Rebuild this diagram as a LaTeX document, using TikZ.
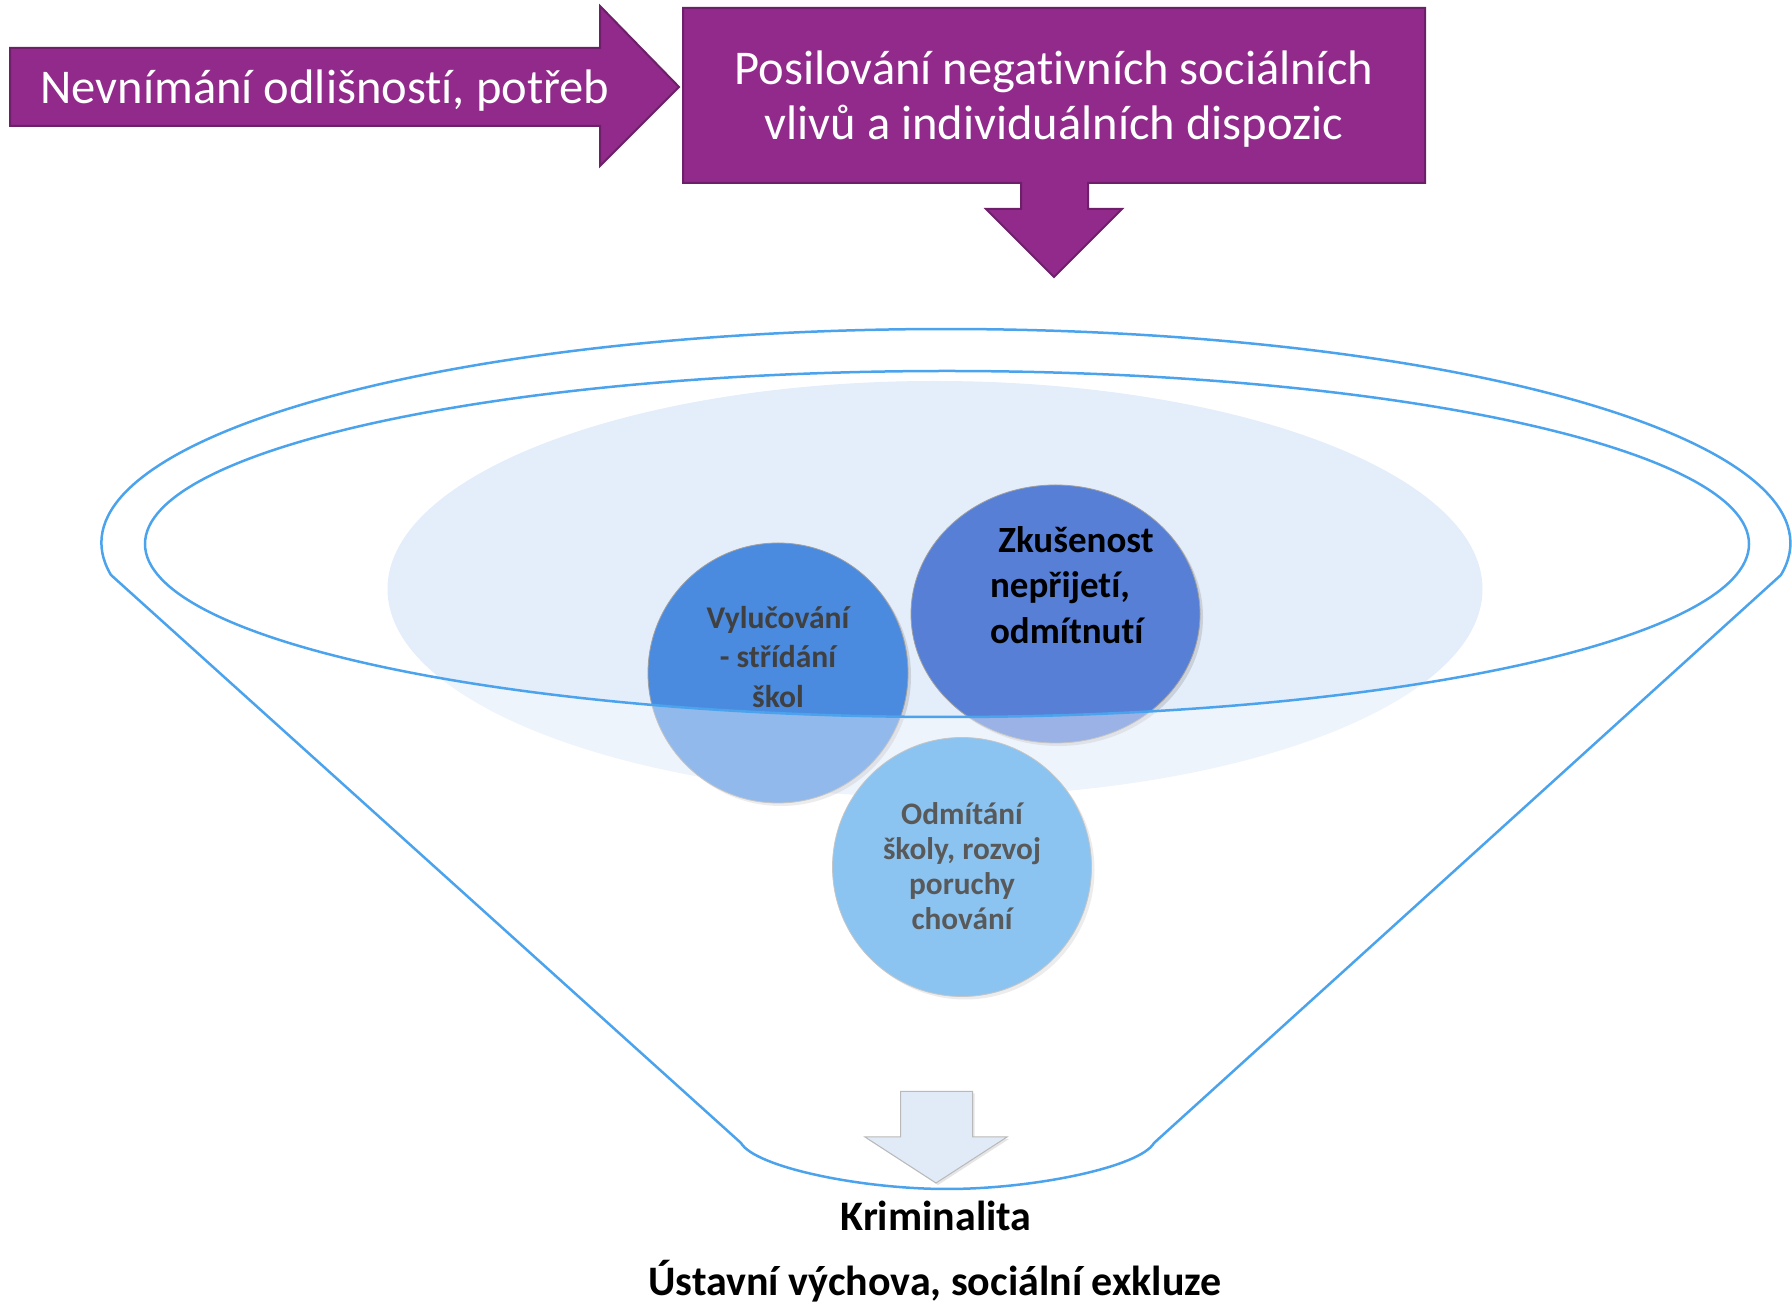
\documentclass[tikz,border=0pt]{standalone}
\usepackage{fontspec}
\setmainfont{Carlito}[Ligatures=NoCommon]
\usetikzlibrary{shapes.geometric,shadows}

\definecolor{purpleFill}{HTML}{912A8B}
\definecolor{purpleEdge}{HTML}{6D1F69}
\definecolor{funnelBlue}{HTML}{4AA3EC}
\definecolor{mouthBlue}{HTML}{E4EDFA}
\definecolor{vylBlue}{HTML}{4A8BDF}
\definecolor{zkuBlue}{HTML}{577FD6}
\definecolor{odmBlue}{HTML}{3F9DE9}
\definecolor{arrowBlue}{HTML}{E1EBF8}

\begin{document}
\begin{tikzpicture}
[x=1pt,y=1pt,
 bubbleDecorate/.style={shape=ellipse,inner sep=0pt,draw=gray!75,line width=0.8pt,
   drop shadow={opacity=0.25,shadow xshift=3pt,shadow yshift=-3pt}},
 bubbleText/.style={font=\bfseries,align=center}]
\useasboundingbox (0,0) rectangle (1792,1307);
%% light mouth of the funnel
\fill[mouthBlue] (935,718) ellipse [x radius=547.5pt, y radius=208pt];
%% bubbles
\foreach \nodename/\x/\y/\w/\h/\colour in {vyl/778/634/260/260/vylBlue,
  zku/1055.5/693/289/258/zkuBlue, odm/962/440/259/259/odmBlue}
{
  \node (\nodename) at (\x,\y) [bubbleDecorate,fill=\colour,
    minimum width=\w pt,minimum height=\h pt] {};
}
%% front of the funnel, half see-through
\tikzstyle{funnelPath}=[line width=2.5pt,draw=funnelBlue]
\fill[white,opacity=0.4,even odd rule]
  (111,732) arc [start angle=188.6, end angle=-8.6, x radius=844.5pt, y radius=214pt]
  -- (1154,164) .. controls (1140,140) and (1034,118) .. (947,118)
  .. controls (860,118) and (755,140) .. (741,164) -- cycle
  (947,763) ellipse [x radius=802pt, y radius=173pt];
%% bubble texts
\node (vylText) at (778,650) [bubbleText,text=black!75,
  font=\fontsize{31.6}{39.4}\selectfont\bfseries]
  {Vylučování\\- střídání\\škol};
\node (zkuText) at (986.5,722) [bubbleText,anchor=west,align=left,text=black,
  font=\fontsize{37}{45.7}\selectfont\bfseries]
  {~Zkušenost\\nepřijetí,\\odmítnutí};
\node (odmText) at (962,441) [bubbleText,text=black!65,
  font=\fontsize{31.3}{35}\selectfont\bfseries]
  {Odmítání\\školy, rozvoj\\poruchy\\chování};
%% funnel outline
\draw[funnelPath]
  (111,732) arc [start angle=188.6, end angle=-8.6, x radius=844.5pt, y radius=214pt]
  -- (1154,164) .. controls (1140,140) and (1034,118) .. (947,118)
  .. controls (860,118) and (755,140) .. (741,164) -- cycle;
\draw[funnelPath] (947,763) ellipse [x radius=802pt, y radius=173pt];
%% outlet arrow
\filldraw[fill=arrowBlue,draw=gray!55,line width=1pt,
  drop shadow={opacity=0.2,shadow xshift=2pt,shadow yshift=-2pt}]
  (900.6,215.5) -- (972.6,215.5) -- (972.6,170) -- (1007,170) -- (936,124)
  -- (865,170) -- (900.6,170) -- cycle;
\node (krim) at (936,91) [font=\fontsize{42}{50}\selectfont\bfseries] {Kriminalita};
\node (ustav) at (935,26) [font=\fontsize{42}{50}\selectfont\bfseries]
  {Ústavní výchova, sociální exkluze};
%% purple arrows on top
\tikzstyle{purpleShape}=[fill=purpleFill,draw=purpleEdge,line width=2pt]
\filldraw[purpleShape] (10,1259) -- (600,1259) -- (600,1301) -- (679,1220)
  -- (600,1141) -- (600,1181) -- (10,1181) -- cycle;
\filldraw[purpleShape] (683,1299) -- (1425,1299) -- (1425,1124) -- (1088,1124)
  -- (1088,1098) -- (1122,1098) -- (1054,1030) -- (986,1098) -- (1021,1098)
  -- (1021,1124) -- (683,1124) -- cycle;
\node (nevnim) at (325,1216.5) [text=white,font=\fontsize{48.5}{55}\selectfont]
  {Nevnímání odlišností, potřeb};
\node (posil) at (1054,1207.5) [text=white,align=center,font=\fontsize{48.5}{55}\selectfont]
  {Posilování negativních sociálních\\vlivů a individuálních dispozic};
\end{tikzpicture}
\end{document}
